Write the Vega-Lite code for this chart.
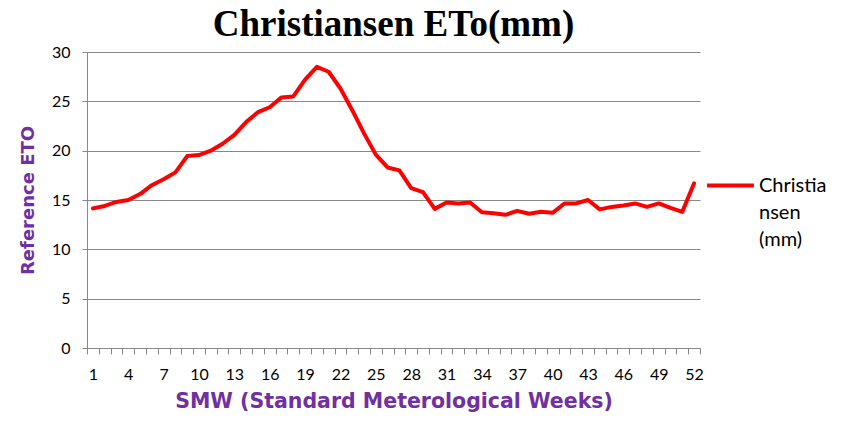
{
  "$schema": "https://vega.github.io/schema/vega-lite/v6.json",
  "width": 613,
  "height": 296,
  "autosize": {"type": "none"},
  "padding": {"left": 87, "top": 52, "right": 151, "bottom": 78},
  "background": "white",
  "title": {
    "text": "Christiansen ETo(mm)",
    "font": "Liberation Serif",
    "fontSize": 37,
    "fontWeight": "bold",
    "color": "black",
    "anchor": "middle",
    "offset": 0
  },
  "data": {
    "values": [
      {"week": 1, "eto": 14.15, "series": "Christiansen (mm)"},
      {"week": 2, "eto": 14.4, "series": "Christiansen (mm)"},
      {"week": 3, "eto": 14.8, "series": "Christiansen (mm)"},
      {"week": 4, "eto": 15.0, "series": "Christiansen (mm)"},
      {"week": 5, "eto": 15.6, "series": "Christiansen (mm)"},
      {"week": 6, "eto": 16.5, "series": "Christiansen (mm)"},
      {"week": 7, "eto": 17.1, "series": "Christiansen (mm)"},
      {"week": 8, "eto": 17.8, "series": "Christiansen (mm)"},
      {"week": 9, "eto": 19.45, "series": "Christiansen (mm)"},
      {"week": 10, "eto": 19.55, "series": "Christiansen (mm)"},
      {"week": 11, "eto": 20.0, "series": "Christiansen (mm)"},
      {"week": 12, "eto": 20.7, "series": "Christiansen (mm)"},
      {"week": 13, "eto": 21.6, "series": "Christiansen (mm)"},
      {"week": 14, "eto": 22.9, "series": "Christiansen (mm)"},
      {"week": 15, "eto": 23.9, "series": "Christiansen (mm)"},
      {"week": 16, "eto": 24.4, "series": "Christiansen (mm)"},
      {"week": 17, "eto": 25.4, "series": "Christiansen (mm)"},
      {"week": 18, "eto": 25.5, "series": "Christiansen (mm)"},
      {"week": 19, "eto": 27.2, "series": "Christiansen (mm)"},
      {"week": 20, "eto": 28.5, "series": "Christiansen (mm)"},
      {"week": 21, "eto": 28.0, "series": "Christiansen (mm)"},
      {"week": 22, "eto": 26.3, "series": "Christiansen (mm)"},
      {"week": 23, "eto": 24.1, "series": "Christiansen (mm)"},
      {"week": 24, "eto": 21.75, "series": "Christiansen (mm)"},
      {"week": 25, "eto": 19.6, "series": "Christiansen (mm)"},
      {"week": 26, "eto": 18.3, "series": "Christiansen (mm)"},
      {"week": 27, "eto": 18.0, "series": "Christiansen (mm)"},
      {"week": 28, "eto": 16.2, "series": "Christiansen (mm)"},
      {"week": 29, "eto": 15.8, "series": "Christiansen (mm)"},
      {"week": 30, "eto": 14.1, "series": "Christiansen (mm)"},
      {"week": 31, "eto": 14.75, "series": "Christiansen (mm)"},
      {"week": 32, "eto": 14.65, "series": "Christiansen (mm)"},
      {"week": 33, "eto": 14.75, "series": "Christiansen (mm)"},
      {"week": 34, "eto": 13.75, "series": "Christiansen (mm)"},
      {"week": 35, "eto": 13.65, "series": "Christiansen (mm)"},
      {"week": 36, "eto": 13.5, "series": "Christiansen (mm)"},
      {"week": 37, "eto": 13.9, "series": "Christiansen (mm)"},
      {"week": 38, "eto": 13.6, "series": "Christiansen (mm)"},
      {"week": 39, "eto": 13.8, "series": "Christiansen (mm)"},
      {"week": 40, "eto": 13.7, "series": "Christiansen (mm)"},
      {"week": 41, "eto": 14.65, "series": "Christiansen (mm)"},
      {"week": 42, "eto": 14.65, "series": "Christiansen (mm)"},
      {"week": 43, "eto": 15.0, "series": "Christiansen (mm)"},
      {"week": 44, "eto": 14.05, "series": "Christiansen (mm)"},
      {"week": 45, "eto": 14.3, "series": "Christiansen (mm)"},
      {"week": 46, "eto": 14.45, "series": "Christiansen (mm)"},
      {"week": 47, "eto": 14.65, "series": "Christiansen (mm)"},
      {"week": 48, "eto": 14.3, "series": "Christiansen (mm)"},
      {"week": 49, "eto": 14.65, "series": "Christiansen (mm)"},
      {"week": 50, "eto": 14.2, "series": "Christiansen (mm)"},
      {"week": 51, "eto": 13.8, "series": "Christiansen (mm)"},
      {"week": 52, "eto": 16.7, "series": "Christiansen (mm)"}
    ]
  },
  "mark": {"type": "line", "strokeWidth": 4, "strokeJoin": "round", "strokeCap": "round"},
  "encoding": {
    "x": {
      "field": "week",
      "type": "ordinal",
      "sort": "ascending",
      "scale": {"paddingInner": 0, "paddingOuter": 0},
      "axis": {
        "title": "SMW (Standard Meterological Weeks)",
        "titleFont": "DejaVu Sans",
        "titleFontSize": 20.5,
        "titleFontWeight": "bold",
        "titleColor": "#7030A0",
        "titlePadding": 9,
        "labelAngle": 0,
        "labelFont": "Lato",
        "labelFontSize": 16,
        "labelColor": "black",
        "labelPadding": 12,
        "labelExpr": "(datum.value - 1) % 3 == 0 ? datum.label : ''",
        "tickBand": "extent",
        "tickSize": 6,
        "tickColor": "#888888",
        "domainColor": "#888888",
        "grid": false
      }
    },
    "y": {
      "field": "eto",
      "type": "quantitative",
      "scale": {"domain": [0, 30]},
      "axis": {
        "title": "Reference ETO",
        "titleFont": "DejaVu Sans",
        "titleFontSize": 18,
        "titleFontWeight": "bold",
        "titleColor": "#7030A0",
        "titlePadding": 14,
        "values": [0, 5, 10, 15, 20, 25, 30],
        "labelFont": "Lato",
        "labelFontSize": 16,
        "labelColor": "black",
        "labelPadding": 12,
        "ticks": true,
        "tickSize": 5,
        "tickColor": "#888888",
        "domainColor": "#888888",
        "grid": true,
        "gridColor": "#888888",
        "gridWidth": 1
      }
    },
    "color": {
      "field": "series",
      "type": "nominal",
      "scale": {"range": ["#FF0000"]},
      "legend": {
        "title": null,
        "orient": "none",
        "legendX": 618,
        "legendY": 108,
        "symbolType": "stroke",
        "symbolStrokeWidth": 4,
        "symbolSize": 2200,
        "labelFont": "Lato",
        "labelFontSize": 20,
        "labelColor": "black",
        "labelBaseline": "middle",
        "labelOffset": 3,
        "labelExpr": "['Christia', 'nsen', '(mm)']",
        "labelLimit": 200
      }
    }
  },
  "config": {
    "view": {"stroke": null},
    "style": {"guide-label": {"lineHeight": 27}}
  }
}
